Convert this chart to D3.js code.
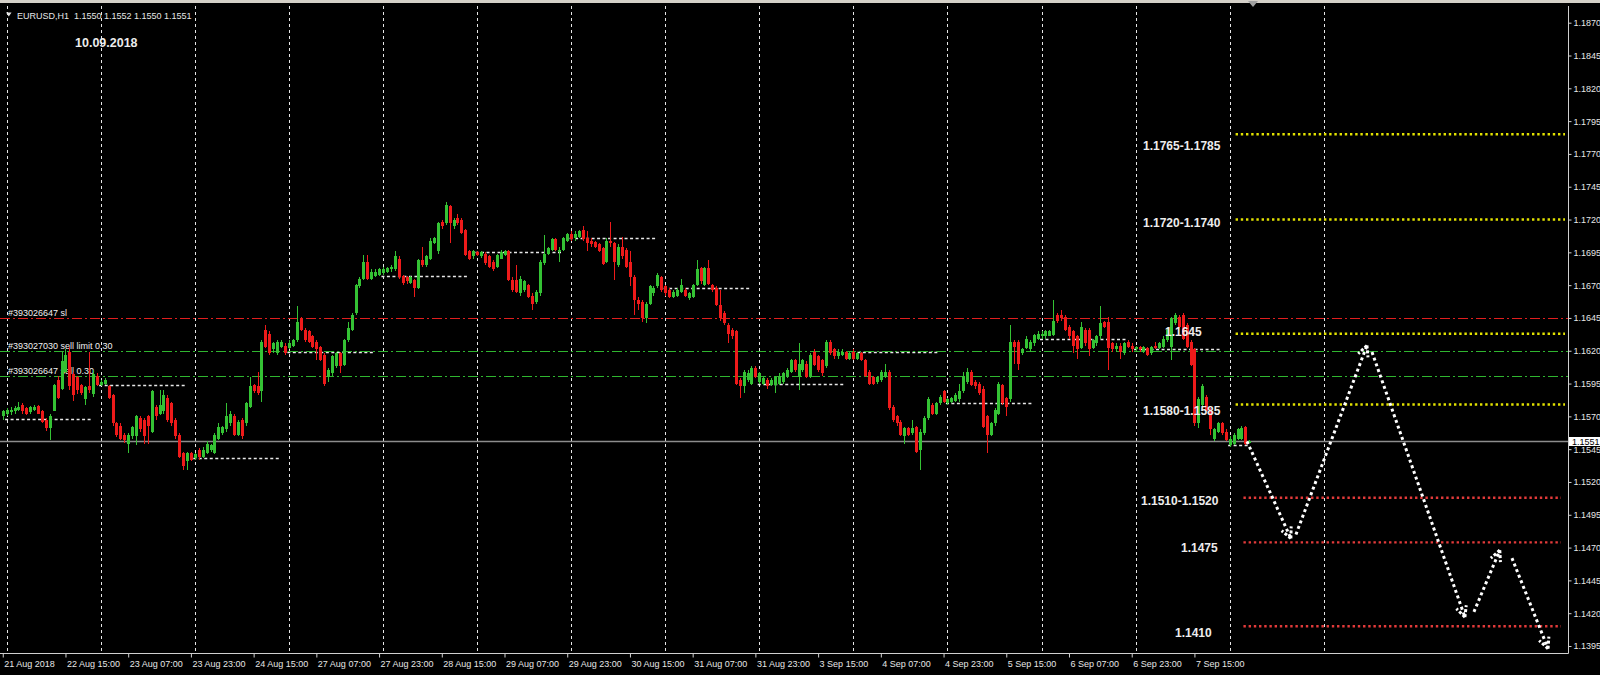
<!DOCTYPE html>
<html><head><meta charset="utf-8">
<script src="https://cdn.jsdelivr.net/npm/d3@7"></script>
<style>html,body{margin:0;padding:0;background:#000;overflow:hidden}svg{display:block}</style>
</head><body><svg id="c" width="1600" height="675"></svg>
<script>
// ---------- DATA (EURUSD H1, bar 0 = 21 Aug 2018 23:00) ----------
const opens=[1.1570,1.1572,1.1573,1.1574,1.1575,1.1579,1.1576,1.1573,1.1575,1.1578,
1.1574,1.1567,1.1561,1.1574,1.1598,1.1591,1.1604,1.1619,1.1602,1.1600,
1.1594,1.1583,1.1593,1.1587,1.1601,
1.1594,1.1595,1.1593,1.1586,1.1565,
1.1563,1.1556,1.1549,1.1555,1.1555,1.1569,1.1567,1.1570,1.1558,1.1577,
1.1572,1.1574,1.1584,1.1580,1.1567,1.1556,1.1542,1.1536,1.1542,
1.1538,1.1544,1.1539,1.1542,1.1544,1.1542,1.1553,1.1557,1.1560,1.1565,
1.1570,1.1556,1.1567,1.1565,1.1577,1.1594,1.1593,1.1589,1.1636,1.1633,1.1621,1.1618,1.1623,1.1624,
1.1622,1.1624,1.1628,1.1645,1.1636,1.1635,1.1631,1.1627,1.1623,1.1617,
1.1600,1.1603,1.1608,1.1618,1.1609,1.1628,1.1636,1.1649,1.1669,1.1675,1.1688,1.1675,1.1677,1.1678,
1.1679,1.1680,1.1682,1.1682,1.1690,1.1677,1.1676,1.1672,1.1674,1.1668,1.1689,1.1685,1.1690,1.1702,
1.1696,1.1718,1.1717,1.1730,1.1715,1.1721,1.1720,1.1712,1.1696,1.1692,
1.1695,1.1692,1.1694,1.1692,1.1688,1.1684,1.1690,1.1693,1.1696,1.1674,
1.1674,1.1664,1.1666,1.1670,1.1662,1.1657,1.1664,1.1687,1.1694,1.1697,1.1705,1.1695,1.1697,1.1704,
1.1709,1.1706,1.1707,1.1712,1.1706,1.1704,1.1703,1.1701,1.1698,1.1688,
1.1704,1.1702,1.1685,1.1699,1.1697,1.1688,1.1676,1.1659,1.1657,1.1645,1.1656,1.1664,1.1669,1.1676,
1.1669,1.1666,1.1661,1.1662,1.1665,1.1666,1.1660,1.1661,1.1670,1.1683,1.1670,1.1683,
1.1670,1.1668,1.1655,1.1649,1.1640,1.1636,1.1635,1.1598,1.1593,1.1598,1.1595,1.1607,
1.1596,1.1595,1.1598,1.1594,1.1594,1.1595,1.1596,1.1600,1.1604,1.1613,1.1600,1.1605,
1.1610,1.1600,1.1619,1.1616,1.1613,1.1608,1.1627,1.1621,1.1616,1.1617,1.1619,1.1614,
1.1619,1.1614,1.1618,1.1613,1.1604,1.1600,1.1596,1.1598,1.1600,1.1604,1.1577,1.1570,
1.1566,1.1555,1.1561,1.1557,1.1562,1.1544,1.1557,1.1569,1.1579,1.1572,1.1580,1.1589,
1.1580,1.1581,1.1582,1.1583,1.1589,1.1596,1.1604,1.1596,1.1595,1.1591,1.1570,1.1556,
1.1565,1.1572,1.1594,1.1584,1.1583,1.1627,1.1627,1.1618,1.1622,1.1621,1.1626,1.1629,
1.1631,1.1631,1.1631,1.1632,1.1647,1.1647,1.1646,1.1638,1.1635,1.1631,1.1622,1.1636,
1.1636,1.1622,1.1626,1.1631,1.1642,1.1642,1.1626,1.1621,1.1624,1.1618,1.1627,1.1624,
1.1621,1.1623,1.1619,1.1622,1.1618,1.1624,1.1622,1.1623,1.1628,1.1623,1.1641,1.1646,
1.1647,1.1640,1.1627,1.1621,1.1565,1.1579,1.1585,1.1575,1.1553,1.1558,1.1565,1.1558,
1.1548,1.1549,1.1553,1.1553,1.1562,1.1550];
const highs=[1.1575,1.1576,1.1577,1.1578,1.1581,1.1580,1.1577,1.1578,1.1579,1.1579,
1.1575,1.1569,1.1572,1.1595,1.1601,1.1619,1.1621,1.1623,1.1604,1.1601,
1.1595,1.1593,1.1619,1.1605,1.1603,
1.1598,1.1599,1.1594,1.1587,1.1566,
1.1565,1.1557,1.1557,1.1563,1.1571,1.1570,1.1569,1.1571,1.1590,1.1579,
1.1590,1.1590,1.1586,1.1581,1.1569,1.1557,1.1543,1.1543,1.1543,
1.1542,1.1546,1.1547,1.1551,1.1549,1.1557,1.1565,1.1563,1.1580,1.1574,
1.1572,1.1567,1.1569,1.1581,1.1600,1.1595,1.1604,1.1628,1.1640,1.1635,1.1627,1.1628,1.1628,1.1626,
1.1628,1.1629,1.1654,1.1646,1.1637,1.1636,1.1632,1.1628,1.1624,1.1618,
1.1607,1.1617,1.1619,1.1619,1.1629,1.1642,1.1649,1.1671,1.1676,1.1693,1.1693,1.1682,1.1682,1.1683,
1.1684,1.1684,1.1685,1.1696,1.1692,1.1678,1.1677,1.1677,1.1675,1.1690,1.1699,1.1693,1.1706,1.1707,
1.1718,1.1720,1.1733,1.1731,1.1721,1.1724,1.1721,1.1713,1.1697,1.1697,
1.1696,1.1696,1.1695,1.1693,1.1689,1.1694,1.1697,1.1697,1.1697,1.1676,
1.1685,1.1677,1.1674,1.1671,1.1664,1.1666,1.1689,1.1708,1.1699,1.1706,1.1706,1.1699,1.1707,1.1710,
1.1711,1.1711,1.1712,1.1715,1.1711,1.1706,1.1704,1.1702,1.1699,1.1706,
1.1718,1.1703,1.1701,1.1707,1.1698,1.1696,1.1678,1.1661,1.1659,1.1657,1.1670,1.1669,1.1679,1.1677,
1.1670,1.1668,1.1666,1.1668,1.1675,1.1668,1.1665,1.1671,1.1689,1.1684,1.1684,1.1689,
1.1671,1.1669,1.1666,1.1650,1.1641,1.1637,1.1636,1.1599,1.1605,1.1605,1.1608,1.1608,
1.1604,1.1600,1.1599,1.1599,1.1601,1.1603,1.1604,1.1607,1.1614,1.1614,1.1626,1.1614,
1.1612,1.1618,1.1621,1.1617,1.1614,1.1628,1.1628,1.1622,1.1621,1.1621,1.1620,1.1619,
1.1621,1.1619,1.1619,1.1614,1.1605,1.1601,1.1601,1.1605,1.1610,1.1605,1.1579,1.1571,
1.1567,1.1562,1.1562,1.1567,1.1563,1.1560,1.1570,1.1585,1.1580,1.1581,1.1586,1.1590,
1.1584,1.1585,1.1588,1.1595,1.1604,1.1607,1.1605,1.1598,1.1596,1.1593,1.1571,1.1566,
1.1576,1.1596,1.1595,1.1585,1.1640,1.1628,1.1628,1.1622,1.1631,1.1628,1.1633,1.1635,
1.1635,1.1636,1.1636,1.1659,1.1649,1.1651,1.1647,1.1640,1.1636,1.1632,1.1642,1.1637,
1.1637,1.1629,1.1632,1.1654,1.1643,1.1646,1.1627,1.1626,1.1626,1.1627,1.1628,1.1626,
1.1624,1.1624,1.1624,1.1623,1.1624,1.1627,1.1627,1.1631,1.1637,1.1646,1.1649,1.1647,
1.1649,1.1641,1.1628,1.1622,1.1585,1.1595,1.1586,1.1576,1.1561,1.1566,1.1566,1.1560,
1.1555,1.1557,1.1561,1.1563,1.1563,1.1552];
const lows=[1.1567,1.1570,1.1571,1.1572,1.1574,1.1572,1.1571,1.1572,1.1574,1.1572,
1.1565,1.1559,1.1552,1.1574,1.1583,1.1590,1.1603,1.1590,1.1582,1.1587,
1.1586,1.1579,1.1588,1.1585,1.1593,
1.1593,1.1594,1.1583,1.1563,1.1554,
1.1552,1.1550,1.1542,1.1553,1.1548,1.1558,1.1549,1.1549,1.1557,1.1567,
1.1571,1.1572,1.1566,1.1563,1.1553,1.1538,1.1529,1.1529,1.1536,
1.1537,1.1537,1.1538,1.1541,1.1543,1.1541,1.1552,1.1556,1.1558,1.1563,
1.1555,1.1555,1.1553,1.1563,1.1576,1.1588,1.1586,1.1581,1.1622,1.1617,1.1618,1.1617,1.1622,1.1617,
1.1621,1.1623,1.1627,1.1635,1.1627,1.1626,1.1622,1.1613,1.1612,1.1593,
1.1596,1.1601,1.1607,1.1603,1.1608,1.1627,1.1635,1.1647,1.1668,1.1674,1.1674,1.1674,1.1676,1.1677,
1.1678,1.1679,1.1680,1.1681,1.1675,1.1670,1.1671,1.1671,1.1661,1.1667,1.1684,1.1684,1.1689,1.1701,
1.1694,1.1713,1.1716,1.1702,1.1713,1.1716,1.1709,1.1692,1.1689,1.1690,
1.1692,1.1691,1.1685,1.1683,1.1681,1.1683,1.1690,1.1692,1.1673,1.1665,
1.1664,1.1662,1.1665,1.1660,1.1651,1.1656,1.1662,1.1685,1.1693,1.1696,1.1696,1.1688,1.1696,1.1703,
1.1704,1.1704,1.1706,1.1704,1.1696,1.1699,1.1698,1.1695,1.1685,1.1687,
1.1699,1.1674,1.1684,1.1690,1.1683,1.1669,1.1647,1.1651,1.1642,1.1641,1.1655,1.1662,1.1668,1.1665,
1.1662,1.1660,1.1660,1.1661,1.1664,1.1661,1.1659,1.1660,1.1669,1.1671,1.1669,1.1670,
1.1665,1.1654,1.1643,1.1640,1.1626,1.1629,1.1594,1.1584,1.1588,1.1596,1.1594,1.1599,
1.1595,1.1594,1.1591,1.1593,1.1588,1.1594,1.1595,1.1599,1.1603,1.1604,1.1590,1.1604,
1.1599,1.1599,1.1608,1.1604,1.1601,1.1607,1.1617,1.1614,1.1614,1.1616,1.1613,1.1613,
1.1613,1.1613,1.1612,1.1600,1.1594,1.1594,1.1595,1.1596,1.1599,1.1575,1.1566,1.1563,
1.1555,1.1549,1.1555,1.1556,1.1542,1.1529,1.1556,1.1567,1.1571,1.1571,1.1579,1.1580,
1.1579,1.1580,1.1581,1.1581,1.1588,1.1595,1.1593,1.1591,1.1586,1.1561,1.1542,1.1555,
1.1563,1.1571,1.1579,1.1570,1.1581,1.1610,1.1605,1.1617,1.1621,1.1619,1.1624,1.1628,
1.1629,1.1629,1.1631,1.1631,1.1641,1.1643,1.1635,1.1629,1.1618,1.1614,1.1621,1.1624,
1.1616,1.1621,1.1624,1.1629,1.1637,1.1605,1.1619,1.1619,1.1614,1.1617,1.1622,1.1619,
1.1619,1.1619,1.1618,1.1616,1.1617,1.1621,1.1621,1.1622,1.1627,1.1613,1.1640,1.1637,
1.1628,1.1622,1.1608,1.1563,1.1561,1.1577,1.1572,1.1556,1.1551,1.1557,1.1556,1.1551,
1.1547,1.1548,1.1552,1.1552,1.1548,1.1550];
const closes=[1.1574,1.1575,1.1575,1.1576,1.1577,1.1574,1.1572,1.1577,1.1577,1.1572,
1.1566,1.1561,1.1570,1.1594,1.1584,1.1612,1.1617,1.1593,1.1586,1.1590,
1.1588,1.1592,1.1590,1.1602,1.1594,
1.1596,1.1598,1.1584,1.1565,1.1556,
1.1553,1.1552,1.1556,1.1562,1.1570,1.1560,1.1555,1.1563,1.1589,1.1570,
1.1579,1.1586,1.1567,1.1565,1.1555,1.1539,1.1532,1.1542,1.1537,
1.1541,1.1539,1.1544,1.1549,1.1548,1.1556,1.1562,1.1562,1.1570,1.1572,
1.1556,1.1566,1.1555,1.1580,1.1593,1.1589,1.1588,1.1627,1.1623,1.1618,1.1626,1.1627,1.1627,1.1618,
1.1626,1.1628,1.1642,1.1636,1.1628,1.1627,1.1623,1.1621,1.1613,1.1595,
1.1605,1.1616,1.1618,1.1608,1.1628,1.1637,1.1647,1.1670,1.1675,1.1688,1.1675,1.1680,1.1680,1.1682,
1.1682,1.1683,1.1684,1.1692,1.1676,1.1672,1.1673,1.1676,1.1668,1.1689,1.1685,1.1692,1.1704,1.1706,
1.1717,1.1715,1.1731,1.1717,1.1720,1.1717,1.1710,1.1693,1.1690,1.1696,
1.1693,1.1695,1.1687,1.1684,1.1682,1.1693,1.1695,1.1696,1.1674,1.1666,
1.1665,1.1675,1.1673,1.1661,1.1656,1.1665,1.1688,1.1694,1.1698,1.1705,1.1697,1.1697,1.1706,1.1709,
1.1705,1.1709,1.1711,1.1705,1.1702,1.1701,1.1699,1.1696,1.1686,1.1704,
1.1702,1.1688,1.1699,1.1692,1.1684,1.1676,1.1659,1.1656,1.1645,1.1656,1.1669,1.1668,1.1678,1.1666,
1.1664,1.1661,1.1665,1.1666,1.1670,1.1662,1.1664,1.1670,1.1682,1.1673,1.1683,1.1671,
1.1666,1.1655,1.1645,1.1641,1.1633,1.1631,1.1595,1.1593,1.1604,1.1603,1.1607,1.1600,
1.1603,1.1599,1.1593,1.1598,1.1600,1.1601,1.1603,1.1605,1.1613,1.1605,1.1610,1.1613,
1.1600,1.1617,1.1609,1.1605,1.1603,1.1627,1.1618,1.1616,1.1619,1.1619,1.1614,1.1618,
1.1614,1.1618,1.1613,1.1601,1.1595,1.1595,1.1600,1.1604,1.1604,1.1576,1.1567,1.1565,
1.1556,1.1561,1.1556,1.1561,1.1543,1.1558,1.1569,1.1583,1.1572,1.1580,1.1585,1.1581,
1.1583,1.1584,1.1586,1.1589,1.1601,1.1604,1.1594,1.1593,1.1588,1.1562,1.1556,1.1565,
1.1575,1.1595,1.1580,1.1577,1.1627,1.1623,1.1610,1.1621,1.1629,1.1627,1.1632,1.1633,
1.1633,1.1635,1.1635,1.1643,1.1643,1.1645,1.1636,1.1631,1.1624,1.1621,1.1638,1.1626,
1.1621,1.1628,1.1631,1.1641,1.1638,1.1622,1.1621,1.1624,1.1619,1.1626,1.1623,1.1621,
1.1623,1.1621,1.1623,1.1617,1.1623,1.1622,1.1626,1.1629,1.1636,1.1645,1.1647,1.1638,
1.1629,1.1623,1.1609,1.1565,1.1583,1.1593,1.1574,1.1560,1.1560,1.1565,1.1557,1.1552,
1.1553,1.1556,1.1560,1.1561,1.1549,1.1551];

// day-open markers (bar index where the day starts, price)
const dayStartBars=[1,25,49,73,97,121,145,169,193,217,241,265,289,313];
const dayOpenPrices=[1.1568,1.1594,1.1538,1.1619,1.1677,1.1695,1.1706,1.1668,1.1595,1.1619,1.1580,1.1629,1.1621,1.1548];
const gridBars=[1,25,49,73,97,121,145,169,193,217,241,265,289,313,337];

// order lines
const slPrice=1.1645, sellLimitPrice=1.1620, sellPrice=1.1601, bidPrice=1.1551;
const orderLabels=["#393026647 sl","#393027030 sell limit 0.30","#393026647 sell 0.30"];

// forecast levels
const upLevels=[1.1785,1.1720,1.1633,1.1579];
const upLabels=["1.1765-1.1785","1.1720-1.1740","1.1645","1.1580-1.1585"];
const downLevels=[1.1508,1.1474,1.1410];
const downLabels=["1.1510-1.1520","1.1475","1.1410"];

// forecast arrows (bar index, price)
const arrowFromBars=[317.4,329.9,349.3,375.3,385.0];
const arrowFromPrices=[1.1551,1.1480,1.1619,1.1421,1.1462];
const arrowToBars=[328.6,348.0,373.0,381.9,394.2];
const arrowToPrices=[1.1477,1.1624,1.1417,1.1468,1.1393];

// axes
const yTicks=[1.1395,1.1420,1.1445,1.1470,1.1495,1.1520,1.1545,1.1570,1.1595,1.1620,1.1645,1.1670,1.1695,1.1720,1.1745,1.1770,1.1795,1.1820,1.1845,1.1870];
const xTickBars=[0,16,32,48,64,80,96,112,128,144,160,176,192,208,224,240,256,272,288,304];
const xTickLabels=["21 Aug 2018","22 Aug 15:00","23 Aug 07:00","23 Aug 23:00","24 Aug 15:00","27 Aug 07:00","27 Aug 23:00","28 Aug 15:00","29 Aug 07:00","29 Aug 23:00","30 Aug 15:00","31 Aug 07:00","31 Aug 23:00","3 Sep 15:00","4 Sep 07:00","4 Sep 23:00","5 Sep 15:00","6 Sep 07:00","6 Sep 23:00","7 Sep 15:00"];
const headerText="EURUSD,H1  1.1550 1.1552 1.1550 1.1551";
const dateText="10.09.2018";

// ---------- DRAW ----------
const svg=d3.select("#c");
const plotRight=1568.5, plotBottom=653.5, plotTop=6;
const x=d3.scaleLinear().domain([0,400]).range([2.75,2.75+3.92*400]);
const y=d3.scaleLinear().domain([1.1395,1.1870]).range([646,22.7]);
const FONT="'Liberation Sans', Arial, sans-serif";

svg.append("rect").attr("width",1600).attr("height",675).attr("fill","#000");
// top strip
svg.append("rect").attr("x",0).attr("y",0).attr("width",1600).attr("height",3).attr("fill","#d4d0c8");

// vertical grid
svg.append("g").selectAll("line").data(gridBars).join("line")
  .attr("x1",d=>Math.round(x(d))+0.5).attr("x2",d=>Math.round(x(d))+0.5)
  .attr("y1",plotTop).attr("y2",plotBottom)
  .attr("stroke","#e6e6e6").attr("stroke-width",1).attr("stroke-dasharray","3,3");

// day open markers
svg.append("g").selectAll("line").data(dayStartBars).join("line")
  .attr("x1",d=>x(d-0.4)).attr("x2",(d,i)=>x(i===dayStartBars.length-1?317.8:d+21.8))
  .attr("y1",(d,i)=>Math.round(y(dayOpenPrices[i]))+0.5).attr("y2",(d,i)=>Math.round(y(dayOpenPrices[i]))+0.5)
  .attr("stroke","#e8e8e8").attr("stroke-width",1.6).attr("stroke-dasharray","3,2.5");

// order lines
const ordG=svg.append("g");
function hline(p,color,dash,w){ordG.append("line").attr("x1",0).attr("x2",plotRight).attr("y1",Math.round(y(p))+0.5).attr("y2",Math.round(y(p))+0.5)
  .attr("stroke",color).attr("stroke-width",w).attr("stroke-dasharray",dash);}
hline(slPrice,"#e01e1e","10,3,2,3",1.2);
hline(sellLimitPrice,"#2fb52f","10,3,2,3",1.2);
hline(sellPrice,"#2fb52f","10,3,2,3",1.2);
hline(bidPrice,"#8c8c8c",null,1.6);
[slPrice,sellLimitPrice,sellPrice].forEach((p,i)=>{
  ordG.append("text").attr("x",8).attr("y",Math.round(y(p))-2).text(orderLabels[i])
   .attr("fill","#f0f0f0").attr("font-family",FONT).attr("font-size",9);
});

// candles
const cg=svg.append("g").attr("shape-rendering","crispEdges");
const idx=d3.range(closes.length);
const bull="#34c234", bear="#ee1a1a";
cg.selectAll("line.w").data(idx).join("line").attr("class","w")
  .attr("x1",i=>Math.round(x(i))+0.5).attr("x2",i=>Math.round(x(i))+0.5)
  .attr("y1",i=>y(highs[i])).attr("y2",i=>y(lows[i]))
  .attr("stroke",i=>closes[i]>=opens[i]?bull:bear).attr("stroke-width",1);
cg.selectAll("rect.b").data(idx).join("rect").attr("class","b")
  .attr("x",i=>Math.round(x(i))-1).attr("width",3)
  .attr("y",i=>y(Math.max(opens[i],closes[i])))
  .attr("height",i=>Math.max(1,Math.abs(y(opens[i])-y(closes[i]))))
  .attr("fill",i=>closes[i]>=opens[i]?bull:bear);

// forecast levels
const lg=svg.append("g");
upLevels.forEach(p=>lg.append("line").attr("x1",x(314.5)).attr("x2",1565).attr("y1",y(p)).attr("y2",y(p))
  .attr("stroke","#e2e200").attr("stroke-width",2.4).attr("stroke-dasharray","2.4,2.8"));
downLevels.forEach(p=>lg.append("line").attr("x1",x(316.5)).attr("x2",1561).attr("y1",y(p)).attr("y2",y(p))
  .attr("stroke","#e23a3a").attr("stroke-width",2.4).attr("stroke-dasharray","2.4,2.8"));
const upLabelX=[1143,1143,1165,1143], upLabelDy=[16,7.8,2.6,10.6];
const downLabelX=[1141,1181,1175], downLabelDy=[7.6,9.9,10.8];
upLabels.forEach((t,i)=>lg.append("text").attr("x",upLabelX[i]).attr("y",y(upLevels[i])+upLabelDy[i]).text(t)
  .attr("fill","#ececec").attr("font-family",FONT).attr("font-weight","bold").attr("font-size",12));
downLabels.forEach((t,i)=>lg.append("text").attr("x",downLabelX[i]).attr("y",y(downLevels[i])+downLabelDy[i]).text(t)
  .attr("fill","#ececec").attr("font-family",FONT).attr("font-weight","bold").attr("font-size",12));

// arrows
const ag=svg.append("g");
arrowFromBars.forEach((b,i)=>{
  const x1=x(b),y1=y(arrowFromPrices[i]),x2=x(arrowToBars[i]),y2=y(arrowToPrices[i]);
  ag.append("line").attr("x1",x1).attr("y1",y1).attr("x2",x2).attr("y2",y2)
    .attr("stroke","#fff").attr("stroke-width",3).attr("stroke-dasharray","3,3");
  const a=Math.atan2(y2-y1,x2-x1), L=12, s=0.45;
  [a+Math.PI-s,a+Math.PI+s].forEach(t=>{
    ag.append("line").attr("x1",x2).attr("y1",y2).attr("x2",x2+L*Math.cos(t)).attr("y2",y2+L*Math.sin(t))
      .attr("stroke","#fff").attr("stroke-width",3).attr("stroke-dasharray","3,2");
  });
});

// axes
const yAxis=d3.axisRight(y).tickValues(yTicks).tickSize(3).tickFormat(d=>d.toFixed(4));
const ya=svg.append("g").attr("transform",`translate(${plotRight},0)`).call(yAxis);
ya.select(".domain").remove();
ya.selectAll("line").attr("stroke","#d0d0d0");
ya.selectAll("text").attr("x",5).attr("fill","#e6e6e6").attr("font-family",FONT).attr("font-size",9);

const xAxis=d3.axisBottom(x).tickValues(xTickBars).tickSize(4).tickFormat((d,i)=>xTickLabels[i]);
const xa=svg.append("g").attr("transform",`translate(0,${plotBottom})`).call(xAxis);
xa.select(".domain").remove();
xa.selectAll("line").attr("stroke","#d0d0d0");
xa.selectAll("text").attr("text-anchor","start").attr("x",1).attr("y",13.5).attr("dy",null)
  .attr("fill","#e6e6e6").attr("font-family",FONT).attr("font-size",9);

// frame
svg.append("line").attr("x1",plotRight).attr("x2",plotRight).attr("y1",plotTop).attr("y2",plotBottom).attr("stroke","#d0d0d0");
svg.append("line").attr("x1",0).attr("x2",plotRight).attr("y1",plotBottom).attr("y2",plotBottom).attr("stroke","#d0d0d0");

// bid price tag
svg.append("rect").attr("x",1569).attr("y",Math.round(y(bidPrice))-4).attr("width",31).attr("height",9).attr("fill","#fff");
svg.append("text").attr("x",1572).attr("y",Math.round(y(bidPrice))+4).text(bidPrice.toFixed(4))
  .attr("fill","#000").attr("font-family",FONT).attr("font-size",9);

// chart shift marker
svg.append("path").attr("d","M1248,1L1258,1L1253,7Z").attr("fill","#a0a0a0");

// header
svg.append("path").attr("d","M6,12.5L11.5,12.5L8.75,16.5Z").attr("fill","#e6e6e6");
svg.append("text").attr("x",17).attr("y",18.5).attr("xml:space","preserve").style("white-space","pre").text(headerText)
  .attr("fill","#e6e6e6").attr("font-family",FONT).attr("font-size",9);
svg.append("text").attr("x",75).attr("y",46.5).text(dateText)
  .attr("fill","#ececec").attr("font-family",FONT).attr("font-weight","bold").attr("font-size",12.5);
</script></body></html>
